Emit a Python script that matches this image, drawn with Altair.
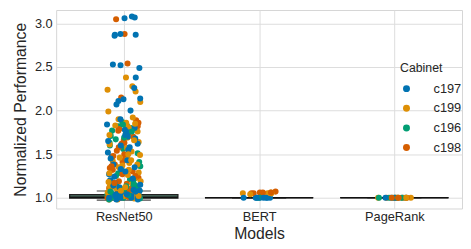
import altair as alt
import pandas as pd

models = ["ResNet50", "BERT", "PageRank"]
cabinets = ["c197", "c199", "c196", "c198"]
colors = ["#0173b2", "#de8f05", "#029e73", "#d55e00"]

# ResNet50 normalized performance per cabinet
resnet_c197 = [3.08, 3.07, 3.06, 2.88, 2.87, 2.87, 2.86, 2.53, 2.52, 2.49, 2.38, 2.26, 2.14, 2.13,
               2.11, 2.07, 2.00, 1.90, 1.84, 1.80, 1.78, 1.75, 1.73, 1.70, 1.68, 1.65, 1.62, 1.58,
               1.55, 1.52, 1.47, 1.43, 1.38, 1.33, 1.30, 1.27, 1.24, 1.20, 1.17, 1.14, 1.12, 1.10,
               1.08, 1.06, 1.05, 1.04, 1.03, 1.02, 1.01, 1.00, 1.00, 0.99, 0.98, 0.98, 1.00, 1.02,
               1.72, 1.60, 1.45, 1.35, 1.22, 1.15, 1.09, 1.07, 1.04, 1.01]
resnet_c199 = [2.38, 2.28, 2.24, 2.22, 2.10, 1.99, 1.92, 1.90, 1.86, 1.83, 1.81, 1.78, 1.76, 1.72,
               1.69, 1.64, 1.61, 1.57, 1.53, 1.49, 1.46, 1.44, 1.42, 1.40, 1.37, 1.35, 1.32, 1.29,
               1.26, 1.22, 1.19, 1.16, 1.13, 1.11, 1.09, 1.07, 1.05, 1.04, 1.03, 1.02, 1.01, 1.00,
               1.00, 0.99, 0.98, 1.01, 1.03, 1.06, 1.85, 1.66, 1.50, 1.43, 1.38, 1.28, 1.18, 1.12,
               1.08, 1.02]
resnet_c196 = [1.87, 1.85, 1.83, 1.82, 1.80, 1.79, 1.77, 1.74, 1.71, 1.67, 1.63, 1.60, 1.56, 1.51,
               1.45, 1.41, 1.36, 1.31, 1.28, 1.25, 1.21, 1.18, 1.15, 1.14, 1.12, 1.11, 1.10, 1.09,
               1.08, 1.07, 1.06, 1.05, 1.04, 1.03, 1.02, 1.01, 1.00, 1.00, 0.99, 0.98, 1.12, 1.09,
               1.05, 1.02, 1.84, 1.76, 1.69, 1.20, 1.16, 1.13, 1.10, 1.07, 1.03, 1.00]
resnet_c198 = [3.05, 2.88, 2.54, 2.15, 1.89, 1.86, 1.82, 1.79, 1.74, 1.70, 1.66, 1.62, 1.58, 1.54,
               1.50, 1.47, 1.44, 1.41, 1.38, 1.34, 1.30, 1.27, 1.23, 1.19, 1.16, 1.13, 1.11, 1.09,
               1.07, 1.05, 1.04, 1.03, 1.01, 1.00, 0.99, 0.98, 1.02, 1.06, 1.77, 1.63, 1.48, 1.36,
               1.32, 1.25, 1.17, 1.10, 1.04, 1.01]

bert_c197 = [1.00, 1.00, 1.00, 1.00, 1.00, 1.00, 1.00, 1.00]
bert_c199 = [1.04, 1.05, 1.05, 1.06, 1.04, 1.05]
bert_c196 = [1.00, 1.00, 1.01]
bert_c198 = [1.05, 1.06, 1.06, 1.05, 1.07, 1.06]

pagerank_c197 = [1.00, 1.00, 1.00, 1.00, 1.00]
pagerank_c199 = [1.00, 1.00, 1.00, 1.00, 1.00, 1.00]
pagerank_c196 = [1.00, 1.00, 1.00, 1.00, 1.00, 1.00]
pagerank_c198 = [1.00, 1.00, 1.00, 1.00, 1.00, 1.00]

# box statistics per model
box_q1 = [0.995, 1.0, 1.0]
box_med = [1.005, 1.0, 1.0]
box_q3 = [1.035, 1.0, 1.0]
whisk_lo = [0.972, 0.998, 1.0]
whisk_hi = [1.077, 1.002, 1.0]

series = {
    "ResNet50": [resnet_c197, resnet_c199, resnet_c196, resnet_c198],
    "BERT": [bert_c197, bert_c199, bert_c196, bert_c198],
    "PageRank": [pagerank_c197, pagerank_c199, pagerank_c196, pagerank_c198],
}

rows = []
for m in models:
    lists = series[m]
    n = max(len(l) for l in lists)
    for i in range(n):
        for c, l in zip(cabinets, lists):
            if i < len(l):
                rows.append({"model": m, "idx": models.index(m), "cabinet": c, "value": l[i]})
pts = pd.DataFrame(rows)

boxes = pd.DataFrame({
    "model": models, "idx": list(range(len(models))),
    "q1": box_q1, "med": box_med, "q3": box_q3, "lo": whisk_lo, "hi": whisk_hi,
})

FONT = "Liberation Sans"
xscale = alt.Scale(domain=[-0.5, 2.5], nice=False, zero=False)
yscale = alt.Scale(domain=[0.876, 3.155], nice=False, zero=False)
xaxis = alt.Axis(values=[0, 1, 2], labelExpr="['ResNet50','BERT','PageRank'][datum.value]",
                 title="Models", labelPadding=2, titlePadding=3)
yaxis = alt.Axis(values=[1.0, 1.5, 2.0, 2.5, 3.0], format=".1f", title="Normalized Performance",
                 labelPadding=4, titlePadding=6)

def X(f):
    return alt.X(f, type="quantitative", scale=xscale, axis=xaxis)

def Y(f):
    return alt.Y(f, type="quantitative", scale=yscale, axis=yaxis)

bbase = alt.Chart(boxes).transform_calculate(
    bx0="datum.idx - 0.4", bx1="datum.idx + 0.4",
    cx0="datum.idx - 0.2", cx1="datum.idx + 0.2",
)

whisk_up = bbase.mark_rule(color="#3a3a3a", strokeWidth=1.2).encode(x=X("idx"), y=Y("q3"), y2="hi:Q")
whisk_dn = bbase.mark_rule(color="#3a3a3a", strokeWidth=1.2).encode(x=X("idx"), y=Y("lo"), y2="q1:Q")
cap_hi = bbase.mark_rule(color="#4a4a4a", strokeWidth=1.2).encode(x=X("cx0"), x2="cx1:Q", y=Y("hi"))
cap_lo = bbase.mark_rule(color="#4a4a4a", strokeWidth=1.2).encode(x=X("cx0"), x2="cx1:Q", y=Y("lo"))
box = bbase.mark_rect(fill="#4d7063", stroke="#222222", strokeWidth=1.3).encode(
    x=X("bx0"), x2="bx1:Q", y=Y("q1"), y2="q3:Q")
med = bbase.mark_rule(color="#111111", strokeWidth=1.5).encode(x=X("bx0"), x2="bx1:Q", y=Y("med"))

points = alt.Chart(pts).transform_window(
    rn="row_number()", groupby=["model"]
).transform_calculate(
    h="(sin(datum.rn * 12.9898 + 78.233) * 43758.5453)",
).transform_calculate(
    xj="datum.idx + ((datum.h - floor(datum.h)) - 0.5) * 0.25"
).mark_circle(size=38, opacity=1).encode(
    x=X("xj"),
    y=Y("value"),
    color=alt.Color("cabinet:N", scale=alt.Scale(domain=cabinets, range=colors),
                    legend=alt.Legend(title="Cabinet", orient="none", legendX=350, legendY=53,
                                      symbolType="circle", symbolSize=50, labelOffset=21,
                                      rowPadding=6, titlePadding=8, titleFontSize=12.5,
                                      titleFontWeight="normal", labelFontSize=13,
                                      titleColor="#262626", labelColor="#262626",
                                      titleFont=FONT, labelFont=FONT)),
)

chart = alt.layer(cap_hi, cap_lo, whisk_up, whisk_dn, box, med, points).properties(
    width=413, height=202,
    autosize=alt.AutoSizeParams(type="none"),
    padding={"left": 49, "top": 0, "right": 1, "bottom": 31},
).configure_view(
    stroke="#d5d5d5", strokeWidth=1
).configure_axis(
    grid=True, gridColor="#dcdcdc", gridWidth=1, domain=False, ticks=False,
    labelFont=FONT, labelFontSize=13, labelColor="#262626",
    titleFont=FONT, titleFontSize=16, titleColor="#262626", titleFontWeight="normal",
)

chart.save("out.html", embed_options={"renderer": "svg", "actions": False})
